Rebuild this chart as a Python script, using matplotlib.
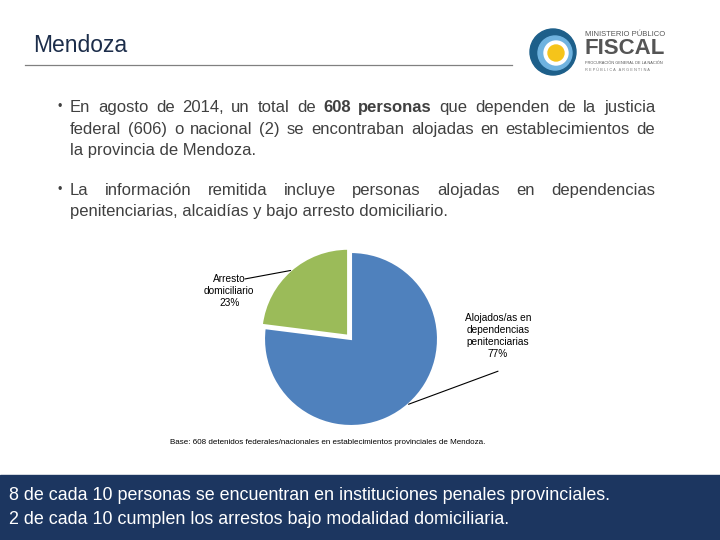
import matplotlib
matplotlib.use("Agg")
import matplotlib.pyplot as plt
from matplotlib.patches import Circle, Rectangle
import numpy as np

plt.rcParams['font.family'] = ['Liberation Sans', 'DejaVu Sans']

# datos
categorias = ['Alojados/as en\ndependencias\npenitenciarias', 'Arresto\ndomiciliario']
porcentajes = [77, 23]
colores = ['#4f81bd', '#9bbb59']
titulo = 'Mendoza'
bullet1 = [
    ("En agosto de 2014, un total de", False), ("608 personas", True),
    ("que dependen de la justicia", False),
]
bullet1_l2 = "federal (606) o nacional (2) se encontraban alojadas en establecimientos de"
bullet1_l3 = "la provincia de Mendoza."
bullet2_l1 = "La información remitida incluye personas alojadas en dependencias"
bullet2_l2 = "penitenciarias, alcaidías y bajo arresto domiciliario."
nota = "Base: 608 detenidos federales/nacionales en establecimientos provinciales de Mendoza."
conclusion = ["8 de cada 10 personas se encuentran en instituciones penales provinciales.",
              "2 de cada 10 cumplen los arrestos bajo modalidad domiciliaria."]

fig = plt.figure(figsize=(7.2, 5.4), dpi=100)
bg = fig.add_axes([0, 0, 1, 1])
bg.set_xlim(0, 720)
bg.set_ylim(540, 0)
bg.axis('off')

# titulo y linea
bg.text(33, 45, titulo, fontsize=16.5, color='#1c2d4a', va='center', ha='left')
bg.plot([25, 512], [65, 65], color='#808080', lw=0.9)

# logo
cx, cy = 553, 52
bg.add_patch(Circle((cx, cy), 23, color='#1d5f8a'))
bg.add_patch(Circle((cx + 2, cy + 1), 17, color='#6fb3e0'))
bg.add_patch(Circle((cx + 3, cy + 1), 12, color='white'))
bg.add_patch(Circle((cx + 3, cy + 1), 8, color='#f5c41a'))
bg.text(585, 35, 'MINISTERIO PÚBLICO', fontsize=5.5, color='#555555', va='center')
bg.text(584, 49, 'FISCAL', fontsize=16, fontweight='bold', color='#555555', va='center')
bg.text(585, 63, 'PROCURACIÓN GENERAL DE LA NACIÓN', fontsize=2.8, color='#555555', va='center')
bg.text(585, 70, 'R E P Ú B L I C A   A R G E N T I N A', fontsize=2.8, color='#777777', va='center')

# texto justificado (linea base en pixel entero)
renderer = fig.canvas.get_renderer()
txt_color = '#404040'
fs = 12
dy = 5


def linea_justificada(piezas, x0, x1, y):
    palabras = []
    for frase, negrita in piezas:
        for w in frase.split():
            palabras.append((w, negrita))
    objs = []
    for w, negrita in palabras:
        t = bg.text(x0, y + dy, w, fontsize=fs, color=txt_color, va='baseline',
                    fontweight='bold' if negrita else 'normal')
        objs.append(t)
    anchos = [t.get_window_extent(renderer).width for t in objs]
    gap = (x1 - x0 - sum(anchos)) / (len(objs) - 1)
    x = x0
    for t, a in zip(objs, anchos):
        t.set_x(round(x))
        x += a + gap


bg.text(60, 107, '•', fontsize=9, color=txt_color, va='center', ha='center')
linea_justificada(bullet1, 70, 655, 107)
linea_justificada([(bullet1_l2, False)], 70, 655, 129)
bg.text(70, 150 + dy, bullet1_l3, fontsize=fs, color=txt_color, va='baseline')
bg.text(60, 190, '•', fontsize=9, color=txt_color, va='center', ha='center')
linea_justificada([(bullet2_l1, False)], 70, 655, 190)
bg.text(70, 211 + dy, bullet2_l2, fontsize=fs, color=txt_color, va='baseline')

# torta
r_px = 87
lim = 1.6
size = 2 * r_px * lim
pcx, pcy = 351, 339
ax = fig.add_axes([(pcx - size / 2) / 720, (540 - pcy - size / 2) / 540, size / 720, size / 540])
wedges, _ = ax.pie(porcentajes, colors=colores, startangle=90, counterclock=False,
                   explode=[0, 0.05], wedgeprops=dict(edgecolor='white', linewidth=1.5))
ax.set_xlim(-lim, lim)
ax.set_ylim(-lim, lim)
ax.set_aspect('equal')
ax.axis('off')

# etiquetas con lineas guia
etiquetas_pos = [(1.69, 0.04), (-1.40, 0.55)]
linea_inicio = [(1.69, -0.37), (-1.22, 0.69)]
for i, w in enumerate(wedges):
    ang = np.deg2rad((w.theta1 + w.theta2) / 2)
    ex = 0.05 if i == 1 else 0
    px, py = (1.0 + ex) * np.cos(ang), (1.0 + ex) * np.sin(ang)
    ax.text(*etiquetas_pos[i], f"{categorias[i]}\n{porcentajes[i]}%", fontsize=7.3,
            ha='center', va='center', color='black', linespacing=1.25)
    ax.annotate('', xy=(px, py), xytext=linea_inicio[i],
                arrowprops=dict(arrowstyle='-', color='black', lw=0.8,
                                shrinkA=0, shrinkB=0))

# nota
bg.text(170, 443, nota, fontsize=5.8, color='black', va='center')

# banda inferior
bg.add_patch(Rectangle((0, 475), 720, 65, color='#1c3660'))
bg.text(9, 496, conclusion[0], fontsize=12.9, color='white', va='center')
bg.text(9, 519, conclusion[1], fontsize=12.9, color='white', va='center')

fig.savefig('out.png', dpi=100)
